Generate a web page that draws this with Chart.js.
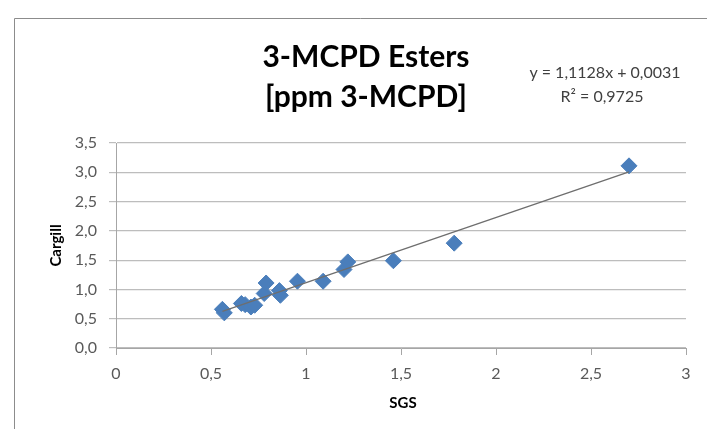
<!DOCTYPE html>
<html>
<head>
<meta charset="utf-8">
<script src="https://cdn.jsdelivr.net/npm/chart.js@4"></script>
<style>
  html, body { margin: 0; padding: 0; background: #fff; }
  #wrap { width: 707px; height: 429px; }
</style>
</head>
<body>
<div id="wrap"><canvas id="chart" width="707" height="429"></canvas></div>
<script>
// values
const sgs = [0.56, 0.57, 0.66, 0.68, 0.71, 0.73, 0.78, 0.79, 0.86, 0.865, 0.955, 1.09, 1.20, 1.22, 1.46, 1.78, 2.70];
const cargill = [0.66, 0.60, 0.76, 0.74, 0.70, 0.73, 0.93, 1.11, 0.98, 0.90, 1.14, 1.14, 1.34, 1.47, 1.49, 1.79, 3.11];
const trendX = [0.56, 2.70];
const trendY = [0.626, 3.008];
const titleLines = ["3-MCPD Esters", "[ppm 3-MCPD]"];
const equationLines = ["y = 1,1128x + 0,0031", "R² = 0,9725"];
const xTitle = "SGS";
const yTitle = "Cargill";

const FONT = "Lato, 'Liberation Sans', sans-serif";
const comma = v => String(v).replace(".", ",");

// frame, title, equation and axis titles
const extras = {
  id: "extras",
  beforeDraw(chart) {
    const c = chart.ctx;
    c.save();
    c.strokeStyle = "#8c8c8c";
    c.lineWidth = 1;
    c.beginPath();
    c.moveTo(14.5, 429);
    c.lineTo(14.5, 18.5);
    c.lineTo(707, 18.5);
    c.stroke();
    c.restore();
  },
  afterDraw(chart) {
    const c = chart.ctx;
    const area = chart.chartArea;
    c.save();
    c.textAlign = "center";
    c.textBaseline = "middle";
    c.fillStyle = "#000";
    c.font = "bold 30px " + FONT;
    titleLines.forEach((t, i) => c.fillText(t, 366, 57 + i * 40));

    c.fillStyle = "#404040";
    c.font = "16px " + FONT;
    c.fillText(equationLines[0], 605, 73);
    c.fillText(equationLines[1], 602, 97);

    c.fillStyle = "#000";
    c.font = "bold 15px " + FONT;
    c.fillText(xTitle, 403, 403);
    c.translate(56, (area.top + area.bottom) / 2);
    c.rotate(-Math.PI / 2);
    c.fillText(yTitle, 0, 0);
    c.restore();
  }
};

new Chart(document.getElementById("chart"), {
  type: "scatter",
  data: {
    datasets: [
      {
        label: "Cargill vs SGS",
        data: sgs.map((x, i) => ({ x, y: cargill[i] })),
        pointStyle: "rectRot",
        pointRadius: 8,
        pointHoverRadius: 8,
        backgroundColor: "#4a7ebb",
        borderColor: "#4a7ebb",
        borderWidth: 1
      },
      {
        label: "Linear trend",
        data: trendX.map((x, i) => ({ x, y: trendY[i] })),
        showLine: true,
        pointRadius: 0,
        borderColor: "#6e6e6e",
        borderWidth: 1.3,
        order: -1
      }
    ]
  },
  options: {
    responsive: false,
    animation: false,
    layout: { padding: { top: 143, right: 21, left: 0, bottom: 0 } },
    plugins: {
      legend: { display: false },
      tooltip: { enabled: false },
      title: { display: false }
    },
    scales: {
      x: {
        type: "linear",
        min: 0,
        max: 3,
        afterFit: s => { s.height = 81; },
        ticks: {
          stepSize: 0.5,
          color: "#595959",
          font: { family: FONT, size: 16 },
          padding: 9,
          callback: v => comma(v)
        },
        grid: { drawOnChartArea: false, drawTicks: true, tickLength: 7, color: "#a6a6a6" },
        border: { display: true, color: "#a6a6a6" }
      },
      y: {
        type: "linear",
        min: 0,
        max: 3.5,
        afterFit: s => { s.width = 116; },
        ticks: {
          stepSize: 0.5,
          color: "#595959",
          font: { family: FONT, size: 16 },
          padding: 12,
          callback: v => v.toFixed(1).replace(".", ",")
        },
        grid: { color: "#bdbdbd", lineWidth: 1.2, tickLength: 7 },
        border: { display: true, color: "#a6a6a6" }
      }
    }
  },
  plugins: [extras]
});
</script>
</body>
</html>
